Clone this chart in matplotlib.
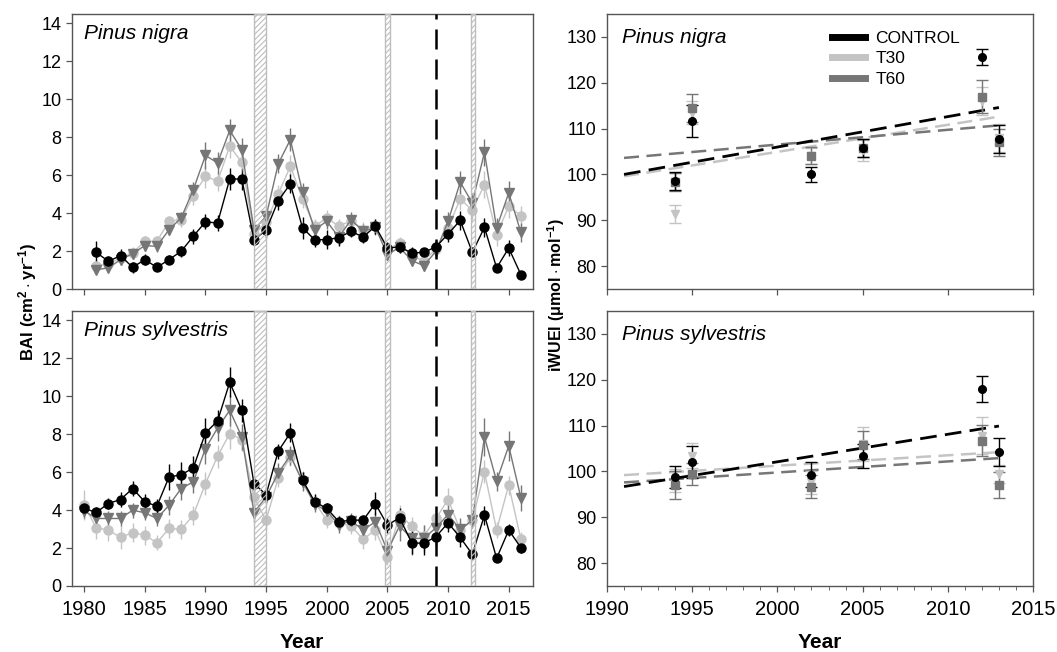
import numpy as np
import matplotlib
matplotlib.use('Agg')
import matplotlib.pyplot as plt
from matplotlib.patches import Rectangle
from matplotlib.lines import Line2D

plt.rcParams['font.family'] = ['Liberation Sans', 'DejaVu Sans']
plt.rcParams['hatch.linewidth'] = 0.8
plt.rcParams['mathtext.fontset'] = 'custom'
plt.rcParams['mathtext.rm'] = 'Liberation Sans'
plt.rcParams['mathtext.bf'] = 'Liberation Sans:bold'

# ---- BAI data (left panels) ----
years_nigra = np.arange(1981, 2017)
nigra_ctrl = [1.93, 1.46, 1.76, 1.14, 1.55, 1.14, 1.55, 1.99, 2.78, 3.54, 3.48, 5.80, 5.80,
              2.60, 3.10, 4.66, 5.54, 3.22, 2.60, 2.60, 2.71, 3.04, 2.74, 3.31, 2.16, 2.22,
              1.90, 1.93, 2.22, 2.90, 3.62, 1.93, 3.25, 1.11, 2.16, 0.76]
nigra_ctrl_err = [0.6, 0.3, 0.35, 0.3, 0.3, 0.2, 0.25, 0.3, 0.4, 0.4, 0.4, 0.6, 0.6,
                  0.3, 0.4, 0.5, 0.5, 0.6, 0.4, 0.5, 0.45, 0.3, 0.3, 0.4, 0.3, 0.3,
                  0.3, 0.25, 0.3, 0.4, 0.5, 0.2, 0.5, 0.2, 0.4, 0.2]
nigra_t30 = [1.23, 1.32, 1.64, 1.90, 2.52, 2.52, 3.57, 3.66, 4.93, 5.95, 5.68, 7.53, 6.68,
             2.90, 3.52, 5.01, 6.47, 4.75, 3.30, 3.75, 3.31, 3.60, 3.13, 3.30, 2.08, 2.43,
             1.72, 1.50, 2.10, 3.22, 4.75, 4.15, 5.51, 2.87, 4.36, 3.87]
nigra_t30_err = [0.3, 0.3, 0.3, 0.3, 0.3, 0.3, 0.3, 0.4, 0.5, 0.6, 0.5, 0.6, 0.6,
                 0.4, 0.4, 0.5, 0.6, 0.5, 0.4, 0.4, 0.4, 0.4, 0.4, 0.4, 0.3, 0.3,
                 0.3, 0.3, 0.3, 0.4, 0.6, 0.5, 0.7, 0.6, 0.6, 0.5]
nigra_t60 = [1.02, 1.11, 1.55, 1.86, 2.29, 2.25, 3.13, 3.75, 5.24, 7.04, 6.65, 8.36, 7.35,
             3.13, 3.83, 6.60, 7.88, 5.10, 3.13, 3.57, 2.73, 3.66, 3.04, 3.25, 1.81, 2.20,
             1.50, 1.23, 1.99, 3.57, 5.63, 4.54, 7.21, 3.22, 5.07, 2.99]
nigra_t60_err = [0.2, 0.2, 0.3, 0.3, 0.3, 0.3, 0.3, 0.3, 0.4, 0.7, 0.6, 0.6, 0.6,
                 0.4, 0.4, 0.5, 0.6, 0.5, 0.4, 0.4, 0.4, 0.4, 0.4, 0.4, 0.3, 0.3,
                 0.3, 0.3, 0.3, 0.5, 0.6, 0.5, 0.7, 0.5, 0.6, 0.5]

years_sylv = np.arange(1980, 2017)
sylv_ctrl = [4.09, 3.88, 4.35, 4.56, 5.14, 4.44, 4.21, 5.75, 5.86, 6.23, 8.07, 8.70, 10.74,
             9.26, 5.40, 4.82, 7.11, 8.07, 5.60, 4.44, 4.09, 3.39, 3.47, 3.47, 4.35, 3.21,
             3.60, 2.28, 2.25, 2.60, 3.33, 2.56, 1.67, 3.74, 1.46, 2.95, 2.02]
sylv_ctrl_err = [0.3, 0.3, 0.3, 0.4, 0.4, 0.4, 0.4, 0.7, 0.7, 0.6, 0.8, 0.6, 0.8,
                 0.6, 0.4, 0.4, 0.4, 0.5, 0.4, 0.4, 0.3, 0.3, 0.3, 0.3, 0.6, 0.4,
                 0.5, 0.6, 0.6, 0.5, 0.5, 0.5, 0.2, 0.5, 0.2, 0.3, 0.3]
sylv_t30 = [4.26, 3.07, 2.95, 2.56, 2.82, 2.68, 2.28, 3.04, 2.98, 3.74, 5.40, 6.84, 8.04,
            7.72, 4.67, 3.47, 5.70, 6.81, 5.58, 4.44, 3.47, 3.33, 3.16, 2.47, 2.95, 1.51,
            3.77, 3.16, 2.63, 3.56, 4.56, 2.95, 3.47, 6.02, 2.95, 5.32, 2.46]
sylv_t30_err = [0.8, 0.6, 0.6, 0.6, 0.5, 0.5, 0.4, 0.5, 0.5, 0.5, 0.6, 0.6, 0.8,
                0.6, 0.5, 0.5, 0.5, 0.5, 0.5, 0.4, 0.4, 0.4, 0.4, 0.5, 0.5, 0.4,
                0.5, 0.5, 0.6, 0.5, 0.6, 0.5, 0.4, 0.6, 0.4, 0.5, 0.4]
sylv_t60 = [3.96, 3.56, 3.56, 3.56, 4.00, 3.86, 3.56, 4.26, 5.14, 5.49, 7.25, 8.33, 9.26,
            7.86, 3.86, 4.70, 5.96, 6.89, 5.49, 4.32, 3.96, 3.21, 3.44, 2.95, 3.39, 1.86,
            3.16, 2.51, 2.51, 3.07, 3.77, 2.98, 3.47, 7.86, 5.53, 7.39, 4.65]
sylv_t60_err = [0.4, 0.4, 0.4, 0.4, 0.4, 0.4, 0.4, 0.5, 0.6, 0.6, 0.8, 0.7, 0.8,
                0.7, 0.5, 0.4, 0.5, 0.5, 0.5, 0.4, 0.4, 0.4, 0.4, 0.5, 0.5, 0.5,
                0.8, 0.9, 0.7, 0.6, 0.6, 0.6, 0.4, 1.0, 0.5, 0.8, 0.7]

# hatched event bands (start, end) and treatment line
bands = [(1994.0, 1995.0), (2004.8, 2005.2), (2011.85, 2012.2)]
treatment_year = 2009

# ---- iWUEI data (right panels) ----
years_wue = [1994, 1995, 2002, 2005, 2012, 2013]
wue_nigra_ctrl = [98.5, 111.6, 100.0, 105.8, 125.6, 107.7]
wue_nigra_ctrl_err = [2.0, 3.5, 1.7, 2.0, 1.8, 3.0]
wue_nigra_t30 = [91.4, 113.5, 104.0, 105.3, 116.0, 108.0]
wue_nigra_t30_err = [2.0, 2.5, 1.8, 2.3, 3.0, 3.0]
wue_nigra_t60 = [98.4, 114.5, 104.1, 105.8, 117.0, 107.0]
wue_nigra_t60_err = [2.0, 3.0, 1.8, 2.0, 3.5, 3.0]

wue_sylv_ctrl = [98.7, 102.0, 99.3, 103.4, 118.0, 104.2]
wue_sylv_ctrl_err = [2.4, 3.5, 2.8, 2.6, 2.8, 3.0]
wue_sylv_t30 = [98.0, 103.4, 97.6, 106.0, 107.8, 99.4]
wue_sylv_t30_err = [2.5, 2.7, 2.5, 3.8, 4.0, 2.0]
wue_sylv_t60 = [97.0, 99.4, 96.7, 105.8, 106.7, 97.1]
wue_sylv_t60_err = [3.0, 2.4, 2.6, 3.0, 3.4, 2.8]

# trend line end points (1991 -> 2013)
trend_years = [1991, 2013]
trend_nigra_ctrl = [100.0, 114.6]
trend_nigra_t30 = [99.6, 112.6]
trend_nigra_t60 = [103.6, 110.7]
trend_sylv_ctrl = [96.7, 109.9]
trend_sylv_t30 = [99.2, 104.2]
trend_sylv_t60 = [97.6, 102.9]

C_CTRL = '#000000'
C_T30 = '#c4c4c4'
C_T60 = '#767676'
SPINE = '#555555'


def style_axes(ax):
    for s in ax.spines.values():
        s.set_color(SPINE)
        s.set_linewidth(1.0)
    ax.tick_params(direction='out', length=4, width=0.9, color=SPINE)
    ax.tick_params(axis='y', labelsize=13)
    ax.tick_params(axis='x', labelsize=14.5, pad=6)


def bai_panel(ax, years, series, title, show_xlabels):
    for y, e, c, m in series:
        ax.errorbar(years, y, yerr=e, color=c, marker=m, markersize=6.5, lw=1.0,
                    elinewidth=1.0, capsize=0, zorder=2)
    for x0, x1 in bands:
        ax.add_patch(Rectangle((x0, 0), x1 - x0, 14.5, facecolor='none',
                               edgecolor='#bdbdbd', hatch='//////', lw=1.0, zorder=3))
    ax.axvline(treatment_year, color='black', lw=1.8, dashes=(8, 4), zorder=4)
    ax.set_xlim(1979, 2017)
    ax.set_ylim(0, 14.5)
    ax.set_yticks(np.arange(0, 15, 2))
    ax.set_xticks(np.arange(1980, 2016, 5))
    if not show_xlabels:
        ax.set_xticklabels([])
    ax.text(0.025, 0.965, title, transform=ax.transAxes, style='italic',
            fontsize=15, va='top', ha='left')
    style_axes(ax)


def wue_panel(ax, series, trends, title, show_xlabels):
    for y, e, c, m in series:
        ax.errorbar(years_wue, y, yerr=e, color=c, marker=m, markersize=5.5,
                    linestyle='none', elinewidth=1.0, capsize=4, capthick=1.0, zorder=3)
    for t, c, lw in trends:
        ax.plot(trend_years, t, color=c, lw=lw, dashes=(6, 3), zorder=2)
    ax.set_xlim(1990, 2015)
    ax.set_ylim(75, 135)
    ax.set_yticks(np.arange(80, 131, 10))
    ax.set_xticks(np.arange(1990, 2016, 5))
    if show_xlabels:
        ax.set_xticks(np.arange(1990, 2016, 1), minor=True)
        ax.tick_params(which='minor', direction='out', length=3, color=SPINE)
    else:
        ax.set_xticklabels([])
    ax.text(0.035, 0.95, title, transform=ax.transAxes, style='italic',
            fontsize=15, va='top', ha='left')
    style_axes(ax)


fig = plt.figure(figsize=(10.57, 6.52), dpi=100)
W, H = 1057, 652
ax1 = fig.add_axes([72 / W, 1 - 289 / H, 461 / W, 275 / H])
ax2 = fig.add_axes([72 / W, 1 - 586 / H, 461 / W, 275 / H])
ax3 = fig.add_axes([607 / W, 1 - 289 / H, 426 / W, 275 / H])
ax4 = fig.add_axes([607 / W, 1 - 586 / H, 426 / W, 275 / H])

bai_panel(ax1, years_nigra,
          [(nigra_t30, nigra_t30_err, C_T30, 'o'),
           (nigra_t60, nigra_t60_err, C_T60, 'v'),
           (nigra_ctrl, nigra_ctrl_err, C_CTRL, 'o')],
          'Pinus nigra', False)
bai_panel(ax2, years_sylv,
          [(sylv_t30, sylv_t30_err, C_T30, 'o'),
           (sylv_t60, sylv_t60_err, C_T60, 'v'),
           (sylv_ctrl, sylv_ctrl_err, C_CTRL, 'o')],
          'Pinus sylvestris', True)

wue_panel(ax3,
          [(wue_nigra_t30, wue_nigra_t30_err, C_T30, 'v'),
           (wue_nigra_t60, wue_nigra_t60_err, C_T60, 's'),
           (wue_nigra_ctrl, wue_nigra_ctrl_err, C_CTRL, 'o')],
          [(trend_nigra_t30, C_T30, 1.8), (trend_nigra_t60, C_T60, 1.8),
           (trend_nigra_ctrl, C_CTRL, 2.0)],
          'Pinus nigra', False)
wue_panel(ax4,
          [(wue_sylv_t30, wue_sylv_t30_err, C_T30, 'v'),
           (wue_sylv_t60, wue_sylv_t60_err, C_T60, 's'),
           (wue_sylv_ctrl, wue_sylv_ctrl_err, C_CTRL, 'o')],
          [(trend_sylv_t30, C_T30, 1.8), (trend_sylv_t60, C_T60, 1.8),
           (trend_sylv_ctrl, C_CTRL, 2.0)],
          'Pinus sylvestris', True)

# legend
handles = [Line2D([], [], color=C_CTRL, lw=5), Line2D([], [], color=C_T30, lw=5),
           Line2D([], [], color=C_T60, lw=5)]
ax3.legend(handles, ['CONTROL', 'T30', 'T60'], loc='upper left',
           bbox_to_anchor=(0.528, 0.94), frameon=False, fontsize=12.5,
           handlelength=1.9, handletextpad=0.6, labelspacing=0.32,
           borderpad=0, borderaxespad=0)

fig.text(28 / W, 1 - 302 / H, r'$\mathbf{BAI\ (cm^{2}\cdot yr^{-1})}$', rotation=90,
         ha='center', va='center', fontsize=12)
fig.text(556 / W, 1 - 295 / H, r'$\mathbf{iWUEI\ (\mu mol\cdot mol^{-1})}$', rotation=90,
         ha='center', va='center', fontsize=11.5)
fig.text(302 / W, 1 - 643 / H, 'Year', fontweight='bold', fontsize=15,
         ha='center', va='center')
fig.text(820 / W, 1 - 642 / H, 'Year', fontweight='bold', fontsize=15,
         ha='center', va='center')

fig.savefig('out.png', dpi=100)
